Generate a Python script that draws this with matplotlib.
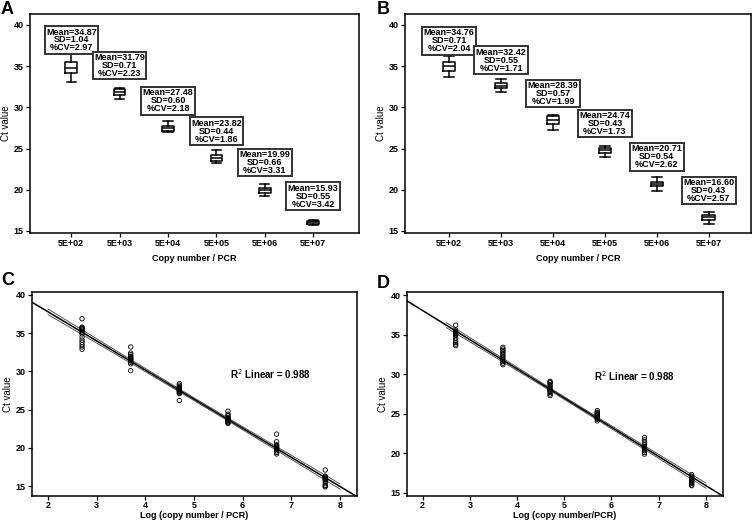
"""Ct value vs copy number: (A,B) box plots per dilution, (C,D) linear standard curves."""
import matplotlib
matplotlib.use('Agg')
import matplotlib.pyplot as plt
import numpy as np
matplotlib.rcParams.update({'font.family': ['Liberation Sans', 'DejaVu Sans'], 'font.size': 7})

copies = ['5E+02', '5E+03', '5E+04', '5E+05', '5E+06', '5E+07']
log_copies = np.log10([5e2, 5e3, 5e4, 5e5, 5e6, 5e7])

# --- box plot summaries ---
a_lo  = [33.03, 31.05, 26.95, 23.23, 19.21, 15.73]
a_q1  = [34.12, 31.49, 27.16, 23.51, 19.62, 15.85]
a_med = [34.73, 31.82, 27.52, 23.91, 19.94, 16.05]
a_q3  = [35.54, 32.18, 27.76, 24.16, 20.27, 16.26]
a_hi  = [36.88, 32.34, 28.33, 24.81, 20.67, 16.34]
a_mean = ['34.87', '31.79', '27.48', '23.82', '19.99', '15.93']
a_sd   = ['1.04', '0.71', '0.60', '0.44', '0.66', '0.55']
a_cv   = ['2.97', '2.23', '2.18', '1.86', '3.31', '3.42']

b_lo  = [33.63, 31.81, 27.30, 24.03, 19.84, 15.89]
b_q1  = [34.35, 32.34, 27.98, 24.48, 20.40, 16.37]
b_med = [34.96, 32.62, 28.51, 24.80, 20.73, 16.65]
b_q3  = [35.44, 32.90, 28.91, 25.08, 21.00, 16.90]
b_hi  = [36.25, 33.43, 29.11, 25.36, 21.53, 17.30]
b_mean = ['34.76', '32.42', '28.39', '24.74', '20.71', '16.60']
b_sd   = ['0.71', '0.55', '0.57', '0.43', '0.54', '0.43']
b_cv   = ['2.04', '1.71', '1.99', '1.73', '2.62', '2.57']

# --- individual Ct values per dilution (scatter panels) ---
c_ct = [
    [36.9, 35.8, 35.7, 35.6, 35.5, 35.3, 35.1, 34.9, 34.5, 34.1, 33.8, 33.5, 33.2, 32.9],
    [33.2, 32.4, 32.2, 32.0, 31.9, 31.8, 31.7, 31.6, 31.5, 31.4, 31.2, 31.0, 30.1],
    [28.4, 28.2, 28.0, 27.9, 27.8, 27.7, 27.6, 27.5, 27.4, 27.3, 27.2, 27.1, 26.2],
    [24.8, 24.4, 24.2, 24.0, 23.9, 23.8, 23.7, 23.6, 23.5, 23.4, 23.3, 23.2],
    [21.8, 20.8, 20.4, 20.3, 20.2, 20.1, 20.0, 19.9, 19.8, 19.6, 19.4, 19.2],
    [17.1, 16.3, 16.2, 16.1, 16.0, 15.9, 15.8, 15.6, 15.3, 15.1, 15.0, 14.9],
]
d_ct = [
    [36.2, 35.6, 35.4, 35.3, 35.2, 35.1, 35.0, 34.9, 34.6, 34.3, 34.0, 33.8, 33.6],
    [33.4, 33.2, 33.0, 32.8, 32.6, 32.4, 32.2, 32.0, 31.8, 31.6, 31.4, 31.2],
    [29.1, 29.0, 28.9, 28.7, 28.5, 28.3, 28.1, 28.0, 27.9, 27.7, 27.5, 27.3],
    [25.4, 25.2, 25.1, 25.0, 24.9, 24.8, 24.7, 24.6, 24.5, 24.4, 24.3, 24.1],
    [22.0, 21.7, 21.4, 21.1, 20.9, 20.8, 20.7, 20.6, 20.5, 20.3, 20.1, 19.9],
    [17.3, 17.1, 16.9, 16.8, 16.7, 16.6, 16.5, 16.4, 16.3, 16.2, 16.0, 15.9],
]
r2_text = 'R$^2$ Linear = 0.988'

fig = plt.figure(figsize=(7.53, 5.26), dpi=100)


def style_axes(ax, xpad):
    for s in ax.spines.values():
        s.set_linewidth(1.1)
    ax.tick_params(axis='both', direction='out', length=3, width=0.9, pad=1.5,
                   top=False, right=False, labelsize=6.5)
    ax.tick_params(axis='x', pad=xpad)
    for lab in ax.get_xticklabels() + ax.get_yticklabels():
        lab.set_fontweight('bold')
    ax.set_ylabel('Ct value', fontsize=7, labelpad=2)


def box_panel(ax, lo, q1, med, q3, hi, means, sds, cvs, xlim):
    stats = [dict(whislo=lo[i], q1=q1[i], med=med[i], q3=q3[i], whishi=hi[i])
             for i in range(len(copies))]
    lp = dict(color='black', lw=1.1)
    ax.bxp(stats, positions=range(len(copies)), widths=0.24, showfliers=False,
           boxprops=lp, medianprops=lp, whiskerprops=lp, capprops=lp, capwidths=0.19)
    for i in range(len(copies)):
        ax.text(i, float(means[i]) + 3.3,
                f'Mean={means[i]}\nSD={sds[i]}\n%CV={cvs[i]}',
                ha='center', va='center', fontsize=6.5, fontweight='bold', linespacing=0.85,
                bbox=dict(boxstyle='square,pad=0.15', fc='white', ec='#333333', lw=1.4))
    ax.set_xlim(*xlim)
    ax.set_ylim(14.75, 41.3)
    ax.set_yticks([15, 20, 25, 30, 35, 40])
    ax.set_xticks(range(len(copies)))
    ax.set_xticklabels(copies)
    ax.set_xlabel('Copy number / PCR', fontsize=6.5, fontweight='bold', labelpad=4)
    style_axes(ax, 1.5)


def fit_panel(ax, ct, xlabel, ci_from, xlim, ylim, r2_pos):
    xs = np.concatenate([np.full(len(v), log_copies[i]) for i, v in enumerate(ct)])
    ys = np.concatenate(ct)
    ax.scatter(xs, ys, s=10, facecolors='none', edgecolors='black', linewidths=0.6, zorder=3)
    slope, icpt = np.polyfit(xs, ys, 1)
    xx = np.linspace(xlim[0], xlim[1], 50)
    ax.plot(xx, icpt + slope * xx, color='black', lw=1.1, zorder=4)
    # 95% CI of the mean fit
    n = len(xs)
    resid = ys - (icpt + slope * xs)
    s = np.sqrt(np.sum(resid ** 2) / (n - 2))
    sxx = np.sum((xs - xs.mean()) ** 2)
    xc = np.linspace(ci_from, 8.0, 50)
    se = s * np.sqrt(1 / n + (xc - xs.mean()) ** 2 / sxx)
    yc = icpt + slope * xc
    ax.plot(xc, yc + 1.99 * se, color='#555555', lw=0.7, zorder=2)
    ax.plot(xc, yc - 1.99 * se, color='#555555', lw=0.7, zorder=2)
    ax.text(r2_pos[0], r2_pos[1], r2_text, fontsize=7, fontweight='bold', va='center')
    ax.set_xlim(*xlim)
    ax.set_ylim(*ylim)
    ax.set_xticks([2, 3, 4, 5, 6, 7, 8])
    ax.set_yticks([15, 20, 25, 30, 35, 40])
    ax.set_xlabel(xlabel, fontsize=6.5, fontweight='bold', labelpad=1)
    style_axes(ax, 0.5)


axA = fig.add_axes([0.040, 0.557, 0.437, 0.416])
box_panel(axA, a_lo, a_q1, a_med, a_q3, a_hi, a_mean, a_sd, a_cv, (-0.85, 5.95))
axB = fig.add_axes([0.538, 0.557, 0.459, 0.416])
box_panel(axB, b_lo, b_q1, b_med, b_q3, b_hi, b_mean, b_sd, b_cv, (-0.85, 5.81))
axC = fig.add_axes([0.0425, 0.057, 0.4315, 0.388])
fit_panel(axC, c_ct, 'Log (copy number / PCR)', 2.0, (1.67, 8.35), (13.7, 40.4), (5.74, 29.6))
axD = fig.add_axes([0.540, 0.057, 0.420, 0.388])
fit_panel(axD, d_ct, 'Log (copy number/PCR)', 2.5, (1.66, 8.36), (14.6, 40.4), (5.62, 29.8))

for letter, x, y in [('A', 0.001, 0.999), ('B', 0.500, 0.999), ('C', 0.001, 0.482), ('D', 0.500, 0.477)]:
    fig.text(x, y, letter, fontsize=13, fontweight='bold', va='top', ha='left')

fig.savefig('out.png', dpi=100)
